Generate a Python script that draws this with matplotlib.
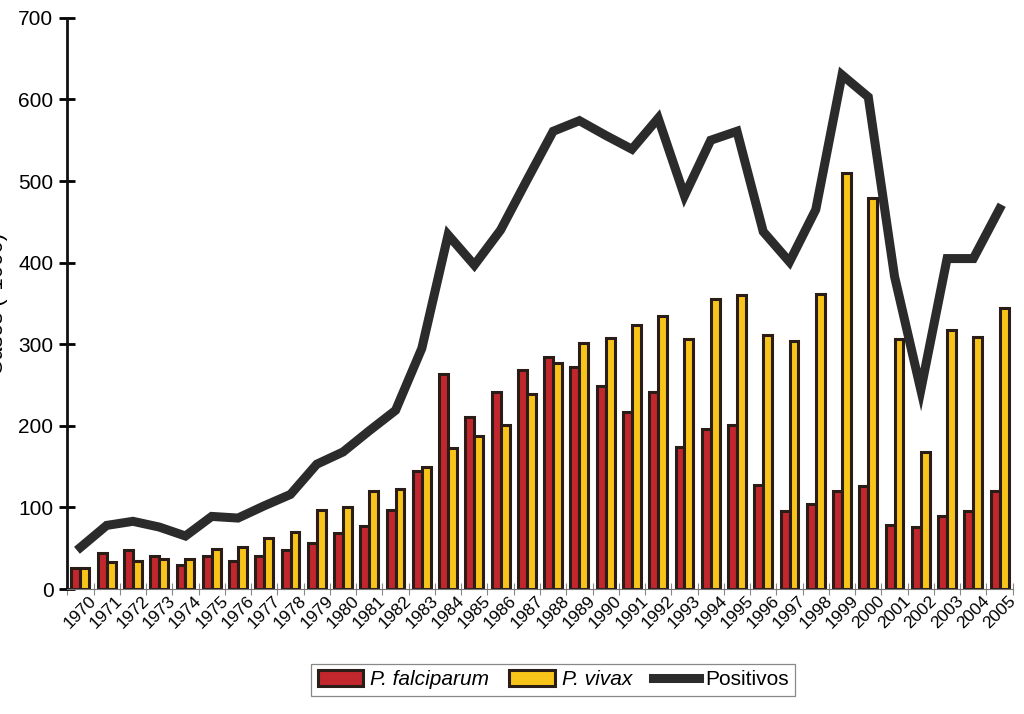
import numpy as np
import matplotlib
matplotlib.use("Agg")
import matplotlib.pyplot as plt

plt.rcParams['font.family'] = ['Liberation Sans', 'DejaVu Sans']

# data (cases x1000)
years = [str(y) for y in range(1970, 2006)]
falciparum = [26, 44, 48, 40, 29, 40, 34, 40, 48, 57, 69, 77, 97, 145, 263, 211, 242, 268,
              284, 272, 249, 217, 242, 174, 196, 201, 128, 96, 104, 120, 126, 78, 76, 89, 96, 120]
vivax = [26, 33, 34, 37, 37, 49, 52, 62, 70, 97, 100, 120, 123, 150, 173, 188, 201, 239,
         277, 302, 308, 323, 335, 307, 356, 360, 311, 304, 362, 510, 479, 307, 168, 317, 309, 344]
positivos = [51, 78, 83, 76, 65, 89, 87, 102, 116, 153, 168, 194, 219, 295, 434, 397, 440, 501,
             561, 574, 556, 539, 577, 482, 550, 561, 438, 401, 465, 630, 603, 383, 244, 405, 405, 466]

red = '#c1272d'
yellow = '#f8c41a'
edge = '#2a1c17'
dark = '#2b2b2b'

fig = plt.figure(figsize=(10.24, 7.14), dpi=100)
ax = fig.add_axes([0.0657, 0.175, 0.9233, 0.80])

x = np.arange(len(years))
w = 0.34
b1 = ax.bar(x - w / 2, falciparum, w, color=red, edgecolor=edge, linewidth=2.2, zorder=2)
b2 = ax.bar(x + w / 2, vivax, w, color=yellow, edgecolor=edge, linewidth=2.2, zorder=2)
l1, = ax.plot(x, positivos, color=dark, lw=6.5, solid_joinstyle='miter', zorder=3)

ax.set_xlim(-0.5, len(years) - 0.5)
ax.set_ylim(0, 700)
ax.set_yticks(range(0, 701, 100))
ax.set_xticks(x)
ax.set_xticklabels(years, rotation=45, ha='center', fontsize=12.5)
ax.set_xticks(np.arange(-0.5, len(years), 1), minor=True)
ax.tick_params(axis='x', which='major', length=0, pad=3)
ax.tick_params(axis='x', which='minor', direction='inout', length=8, width=0.8, color='#888888')
ax.tick_params(axis='y', direction='inout', length=12, width=2, labelsize=15, pad=4)

for s in ['top', 'right']:
    ax.spines[s].set_visible(False)
ax.spines['left'].set_linewidth(2)
ax.spines['left'].set_color('#111111')
ax.spines['bottom'].set_linewidth(0.8)
ax.spines['bottom'].set_color('#777777')

fig.text(0.008, 0.575, 'Casos (*1000)', rotation=90, ha='right', va='center', fontsize=16)

leg = fig.legend([b1, b2, l1], ['P. falciparum', 'P. vivax', 'Positivos'],
                 loc='center', bbox_to_anchor=(0.54, 0.048), ncol=3, fontsize=15,
                 fancybox=False, edgecolor='#888888', framealpha=1, handlelength=2.2,
                 handleheight=0.8, handletextpad=0.3, columnspacing=1.0, borderpad=0.3)
leg.get_frame().set_linewidth(0.9)
leg.get_texts()[0].set_style('italic')
leg.get_texts()[1].set_style('italic')

fig.savefig('out.png', dpi=100)
